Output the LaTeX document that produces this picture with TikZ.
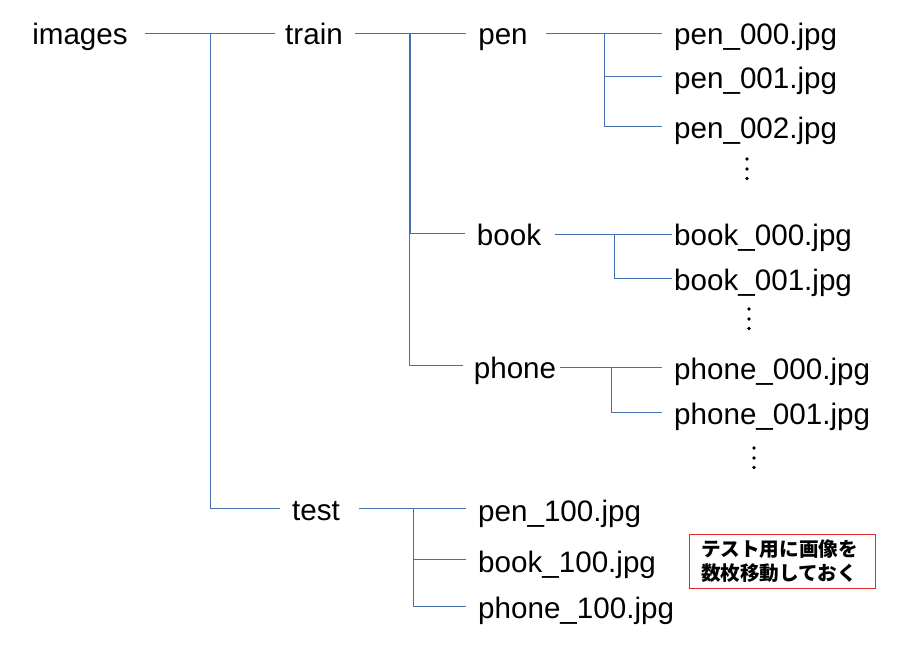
\documentclass[tikz,border=0pt]{standalone}
\usepackage{fontspec}
\setmainfont{Liberation Sans}
\newfontfamily\jpfont{Noto Sans CJK JP}
\begin{document}
\begin{tikzpicture}[x=1pt,y=-1pt,
  lbl/.style={font=\fontsize{29.6}{32}\selectfont, inner sep=0pt, anchor=base},
  file/.style={font=\fontsize{29.6}{32}\selectfont, inner sep=0pt, anchor=base west},
  br/.style={draw=lineblue, line width=0.85pt}]
\definecolor{lineblue}{HTML}{4470B0}
\definecolor{boxred}{HTML}{E8282C}
\useasboundingbox (0,0) rectangle (905,645);
% folder labels
\node[lbl] (images) at (80,44.5) {images};
\node[lbl] (train) at (314,44.5) {train};
\node[lbl] (pen) at (503,44.5) {pen};
\node[lbl] (book) at (509,245) {book};
\node[lbl] (phone) at (515,378) {phone};
\node[lbl] (test) at (316,520) {test};
% files
\node[file] (p0) at (674,44.5) {pen\_000.jpg};
\node[file] (p1) at (674,88) {pen\_001.jpg};
\node[file] (p2) at (674,138) {pen\_002.jpg};
\node[file] (b0) at (674,245) {book\_000.jpg};
\node[file] (b1) at (674,290) {book\_001.jpg};
\node[file] (h0) at (674,379) {phone\_000.jpg};
\node[file] (h1) at (674,424) {phone\_001.jpg};
\node[file] (t0) at (478,521) {pen\_100.jpg};
\node[file] (t1) at (478,572) {book\_100.jpg};
\node[file] (t2) at (478,618) {phone\_100.jpg};
% dots
\foreach \x/\y in {747/159, 749/309, 754/448}{
  \fill (\x,\y) circle (1.8);
  \fill (\x,\y+10) circle (1.8);
  \fill (\x,\y+19.5) circle (1.8);
}
% coordinates for branch points
\coordinate (iS) at (145,33); \coordinate (iE) at (275,33);
\coordinate (iV) at (210,33); \coordinate (iT) at (210,508); \coordinate (iTE) at (280,508);
\coordinate (rS) at (355,33); \coordinate (rE) at (466,33);
\coordinate (rV1) at (410,33); \coordinate (rB) at (410,233); \coordinate (rBE) at (465,233);
\coordinate (rV2) at (409,33); \coordinate (rP) at (409,365); \coordinate (rPE) at (463,365);
\coordinate (pS) at (546,33); \coordinate (pE) at (662,33);
\coordinate (pV) at (604,33); \coordinate (p1L) at (604,76); \coordinate (p1E) at (662,76);
\coordinate (p2L) at (604,126); \coordinate (p2E) at (662,126);
\coordinate (bS) at (555,234); \coordinate (bE) at (672,234);
\coordinate (bV) at (614,234); \coordinate (b1L) at (614,278); \coordinate (b1E) at (672,278);
\coordinate (hS) at (560,367); \coordinate (hE) at (662,367);
\coordinate (hV) at (611,367); \coordinate (h1L) at (611,412); \coordinate (h1E) at (662,412);
\coordinate (tS) at (359,508); \coordinate (tE) at (466,508);
\coordinate (tV) at (413,508); \coordinate (t1L) at (413,559); \coordinate (t1E) at (466,559);
\coordinate (t2L) at (413,606); \coordinate (t2E) at (466,606);
% lines
\draw[br] (iS) -- (iE);
\draw[br] (iV) -- (iT) -- (iTE);
\draw[br] (rS) -- (rE);
\draw[br] (rV1) -- (rB) -- (rBE);
\draw[br] (rV2) -- (rP) -- (rPE);
\draw[br] (pS) -- (pE);
\draw[br] (pV) -- (p2L) -- (p2E);
\draw[br] (p1L) -- (p1E);
\draw[br] (bS) -- (bE);
\draw[br] (bV) -- (b1L) -- (b1E);
\draw[br] (hS) -- (hE);
\draw[br] (hV) -- (h1L) -- (h1E);
\draw[br] (tS) -- (tE);
\draw[br] (tV) -- (t2L) -- (t2E);
\draw[br] (t1L) -- (t1E);
% note box
\node[draw=boxred, line width=1pt, text width=162pt, minimum height=54pt,
  inner xsep=12pt, inner ysep=0pt,
  align=left, font=\jpfont\bfseries\fontsize{19.6}{23.5}\selectfont] (note) at (782,561)
  {テスト用に画像を\\数枚移動しておく};
\end{tikzpicture}
\end{document}
